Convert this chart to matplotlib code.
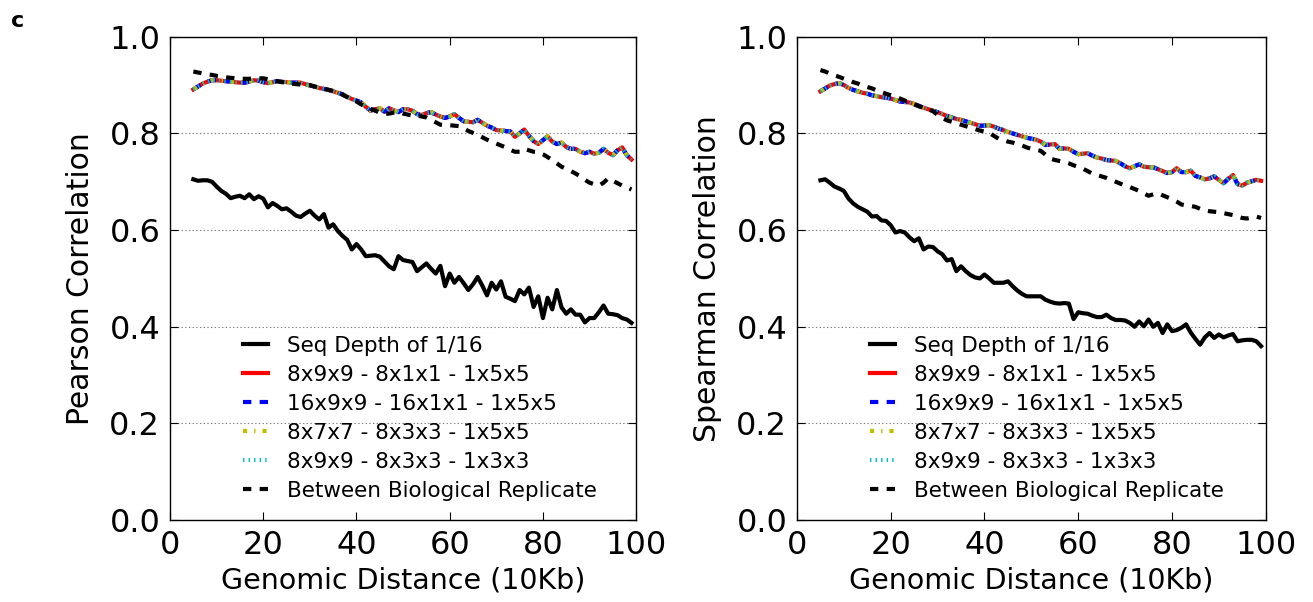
import numpy as np
import matplotlib
matplotlib.use('Agg')
import matplotlib.pyplot as plt

# dash patterns in points, not scaled with the line width (old-style look)
plt.rcParams['lines.scale_dashes'] = False

# genomic distance (10Kb bins)
dist = np.arange(5, 100)

# --- Pearson panel ---
pearson_seq = [0.705, 0.702, 0.703, 0.703, 0.700, 0.690, 0.681, 0.675, 0.666, 0.669,
               0.671, 0.666, 0.674, 0.664, 0.670, 0.665, 0.647, 0.656, 0.650, 0.643,
               0.645, 0.638, 0.630, 0.627, 0.634, 0.640, 0.630, 0.622, 0.633, 0.605,
               0.612, 0.598, 0.588, 0.580, 0.560, 0.571, 0.560, 0.546, 0.547, 0.548,
               0.545, 0.535, 0.525, 0.519, 0.546, 0.538, 0.536, 0.534, 0.515, 0.523,
               0.531, 0.520, 0.510, 0.526, 0.484, 0.510, 0.491, 0.503, 0.490, 0.476,
               0.488, 0.503, 0.485, 0.465, 0.491, 0.477, 0.494, 0.462, 0.458, 0.453,
               0.476, 0.467, 0.481, 0.441, 0.463, 0.418, 0.460, 0.436, 0.476, 0.440,
               0.427, 0.436, 0.425, 0.425, 0.409, 0.418, 0.418, 0.430, 0.444, 0.427,
               0.426, 0.424, 0.418, 0.415, 0.408]
pearson_model = [0.891, 0.897, 0.903, 0.907, 0.910, 0.910, 0.909, 0.908, 0.907, 0.906,
                 0.905, 0.905, 0.907, 0.910, 0.909, 0.906, 0.904, 0.906, 0.908, 0.907,
                 0.906, 0.905, 0.905, 0.905, 0.902, 0.899, 0.897, 0.894, 0.892, 0.890,
                 0.887, 0.884, 0.881, 0.876, 0.871, 0.868, 0.864, 0.855, 0.847, 0.850,
                 0.852, 0.845, 0.852, 0.848, 0.844, 0.850, 0.850, 0.847, 0.840, 0.838,
                 0.842, 0.844, 0.839, 0.835, 0.832, 0.835, 0.840, 0.832, 0.825, 0.824,
                 0.823, 0.828, 0.822, 0.816, 0.812, 0.807, 0.806, 0.805, 0.804, 0.793,
                 0.800, 0.808, 0.795, 0.784, 0.778, 0.786, 0.794, 0.783, 0.778, 0.781,
                 0.772, 0.768, 0.768, 0.762, 0.759, 0.762, 0.758, 0.760, 0.768, 0.760,
                 0.755, 0.765, 0.771, 0.755, 0.746]
pearson_rep = [0.928, 0.926, 0.924, 0.922, 0.921, 0.919, 0.918, 0.916, 0.915, 0.914,
               0.913, 0.913, 0.913, 0.914, 0.914, 0.914, 0.912, 0.910, 0.908, 0.906,
               0.905, 0.903, 0.902, 0.901, 0.900, 0.900, 0.897, 0.895, 0.893, 0.890,
               0.888, 0.885, 0.880, 0.875, 0.870, 0.866, 0.860, 0.855, 0.851, 0.847,
               0.843, 0.840, 0.841, 0.843, 0.844, 0.841, 0.839, 0.837, 0.837, 0.835,
               0.833, 0.828, 0.823, 0.818, 0.817, 0.817, 0.816, 0.815, 0.810, 0.805,
               0.801, 0.797, 0.792, 0.787, 0.783, 0.779, 0.775, 0.771, 0.766, 0.762,
               0.762, 0.768, 0.765, 0.762, 0.761, 0.757, 0.751, 0.745, 0.738, 0.731,
               0.727, 0.722, 0.717, 0.711, 0.704, 0.698, 0.695, 0.692, 0.698, 0.707,
               0.702, 0.697, 0.692, 0.688, 0.684]

# --- Spearman panel ---
spearman_seq = [0.703, 0.705, 0.698, 0.690, 0.686, 0.681, 0.665, 0.655, 0.648, 0.643,
                0.638, 0.628, 0.629, 0.620, 0.619, 0.610, 0.595, 0.598, 0.595, 0.585,
                0.577, 0.583, 0.560, 0.566, 0.565, 0.556, 0.550, 0.537, 0.540, 0.515,
                0.525, 0.515, 0.507, 0.502, 0.500, 0.508, 0.500, 0.491, 0.491, 0.491,
                0.494, 0.484, 0.475, 0.468, 0.463, 0.463, 0.463, 0.463, 0.456, 0.452,
                0.449, 0.448, 0.449, 0.448, 0.416, 0.430, 0.428, 0.427, 0.423, 0.420,
                0.420, 0.425, 0.418, 0.414, 0.414, 0.413, 0.408, 0.400, 0.411, 0.401,
                0.415, 0.400, 0.408, 0.387, 0.405, 0.391, 0.393, 0.398, 0.405, 0.388,
                0.375, 0.363, 0.378, 0.387, 0.377, 0.384, 0.378, 0.382, 0.385, 0.370,
                0.372, 0.373, 0.373, 0.370, 0.360]
spearman_model = [0.887, 0.893, 0.899, 0.902, 0.904, 0.900, 0.894, 0.890, 0.887, 0.884,
                  0.882, 0.879, 0.877, 0.875, 0.874, 0.872, 0.869, 0.866, 0.865, 0.864,
                  0.861, 0.857, 0.853, 0.850, 0.847, 0.844, 0.840, 0.836, 0.833, 0.830,
                  0.828, 0.825, 0.822, 0.819, 0.816, 0.816, 0.817, 0.814, 0.810, 0.807,
                  0.803, 0.800, 0.797, 0.794, 0.791, 0.789, 0.787, 0.783, 0.776, 0.777,
                  0.778, 0.768, 0.769, 0.768, 0.762, 0.757, 0.758, 0.759, 0.754, 0.750,
                  0.748, 0.745, 0.744, 0.743, 0.738, 0.732, 0.728, 0.732, 0.736, 0.731,
                  0.730, 0.730, 0.726, 0.722, 0.718, 0.720, 0.728, 0.720, 0.720, 0.723,
                  0.712, 0.709, 0.705, 0.707, 0.711, 0.704, 0.697, 0.706, 0.714, 0.695,
                  0.692, 0.698, 0.701, 0.704, 0.702]
spearman_rep = [0.931, 0.928, 0.924, 0.920, 0.917, 0.913, 0.910, 0.906, 0.903, 0.899,
                0.896, 0.893, 0.889, 0.886, 0.882, 0.879, 0.876, 0.872, 0.868, 0.864,
                0.860, 0.856, 0.853, 0.850, 0.846, 0.838, 0.832, 0.827, 0.824, 0.821,
                0.818, 0.815, 0.812, 0.809, 0.806, 0.804, 0.801, 0.795, 0.789, 0.786,
                0.783, 0.781, 0.778, 0.775, 0.771, 0.768, 0.766, 0.764, 0.756, 0.748,
                0.745, 0.743, 0.741, 0.738, 0.734, 0.731, 0.727, 0.722, 0.717, 0.714,
                0.711, 0.708, 0.704, 0.700, 0.696, 0.692, 0.689, 0.685, 0.681, 0.676,
                0.671, 0.674, 0.676, 0.672, 0.668, 0.664, 0.659, 0.653, 0.651, 0.650,
                0.648, 0.644, 0.641, 0.639, 0.638, 0.637, 0.635, 0.633, 0.631, 0.628,
                0.625, 0.624, 0.626, 0.628, 0.625]

model_labels = ['8x9x9 - 8x1x1 - 1x5x5', '16x9x9 - 16x1x1 - 1x5x5',
                '8x7x7 - 8x3x3 - 1x5x5', '8x9x9 - 8x3x3 - 1x3x3']
model_colors = ['r', 'b', 'y', 'c']
model_dashes = [None, (6, 6), (3, 5, 1, 5), (1, 3)]


def draw(ax, seq, model, rep, ylabel):
    ax.plot(dist, seq, color='k', lw=3, label='Seq Depth of 1/16')
    # the four model variants overlap almost exactly
    for lab, col, d in zip(model_labels, model_colors, model_dashes):
        line, = ax.plot(dist, model, color=col, lw=3, label=lab)
        if d is not None:
            line.set_dashes(d)
    rline, = ax.plot(dist, rep, color='k', lw=3, label='Between Biological Replicate')
    rline.set_dashes((6, 6))

    ax.set_xlim(0, 100)
    ax.set_ylim(0, 1.0)
    ax.set_xticks(np.arange(0, 101, 20))
    ax.set_yticks(np.arange(0, 1.01, 0.2))
    ax.set_yticklabels(['%.1f' % v for v in np.arange(0, 1.01, 0.2)])
    ax.tick_params(direction='in', top=True, right=True, length=6,
                   labelsize=23, pad=7)
    ax.grid(axis='y', linestyle=':', color='gray', lw=0.8)
    ax.set_xlabel('Genomic Distance (10Kb)', fontsize=20.5)
    ax.set_ylabel(ylabel, fontsize=21.5, labelpad=10)
    for s in ax.spines.values():
        s.set_linewidth(1.0)
    ax.legend(loc='lower left', bbox_to_anchor=(0.115, 0.0), frameon=False,
              fontsize=15.5, handlelength=1.15, handletextpad=0.9,
              labelspacing=0.42)


fig = plt.figure(figsize=(13.13, 6.02), dpi=100)
ax1 = fig.add_axes([0.1295, 0.136, 0.355, 0.803])
ax2 = fig.add_axes([0.607, 0.136, 0.357, 0.803])

draw(ax1, pearson_seq, pearson_model, pearson_rep, 'Pearson Correlation')
draw(ax2, spearman_seq, spearman_model, spearman_rep, 'Spearman Correlation')

fig.text(0.008, 0.955, 'c', fontsize=16, fontweight='bold')

fig.savefig('out.png', dpi=100, facecolor='white')
